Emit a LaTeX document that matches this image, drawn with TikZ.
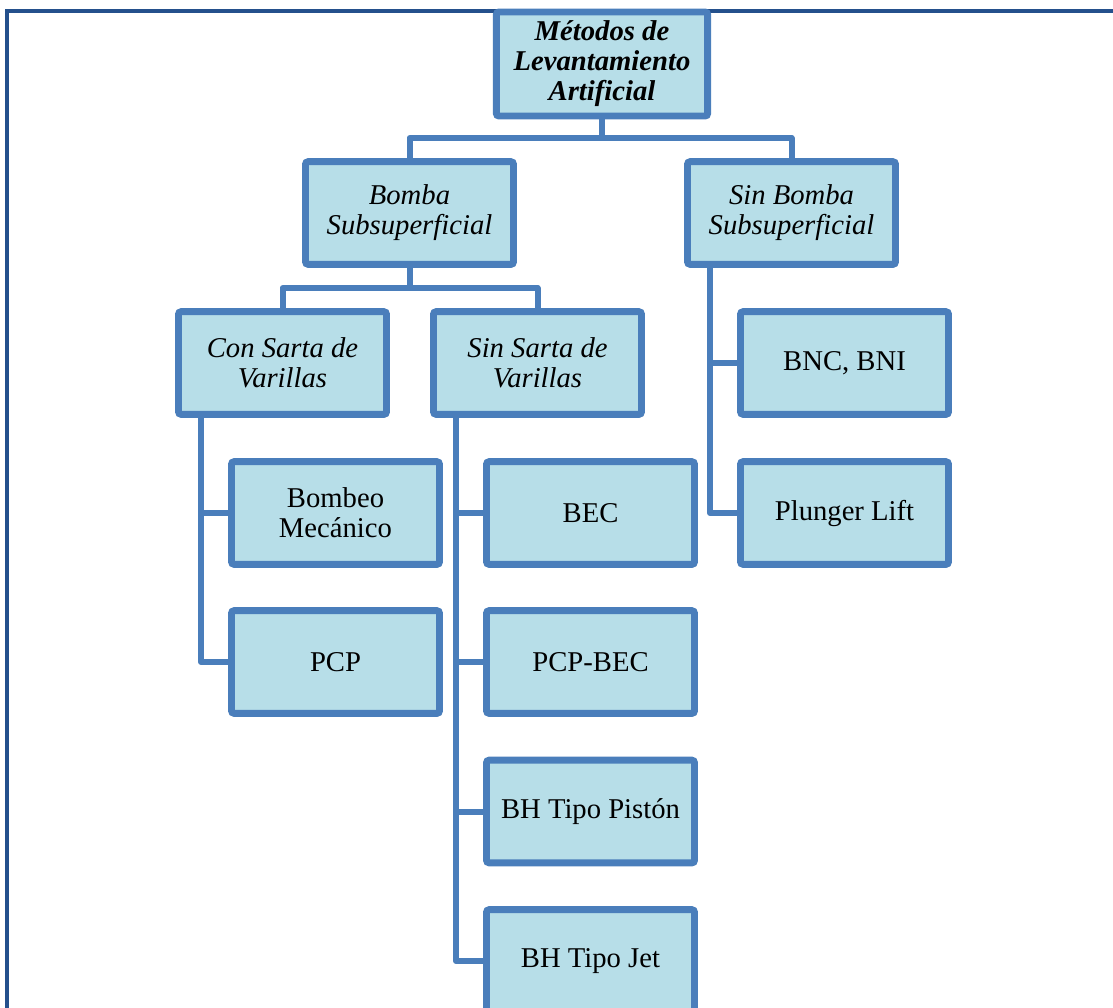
\documentclass[tikz,border=0pt]{standalone}
\usepackage{fontspec}
\setmainfont{Liberation Serif}
\usetikzlibrary{positioning, shadows, backgrounds}
\definecolor{boxblue}{HTML}{B7DEE8}
\definecolor{edgeblue}{HTML}{4A7EBB}
\definecolor{frameblue}{HTML}{24508C}
\newcommand{\txtsize}{\fontsize{21.5}{22.5}\selectfont}

\begin{document}
\begin{tikzpicture}[x=0.75pt, y=-0.75pt,
    metodo/.style={draw=edgeblue, line width=5.2pt, fill=boxblue, rounded corners=2pt,
      minimum width=156pt, minimum height=77pt, align=center, inner sep=2pt,
      font=\txtsize, drop shadow={opacity=0.4, shadow xshift=1.5pt, shadow yshift=-2.2pt}},
    grupo/.style={metodo, font=\txtsize\itshape},
    raiz/.style={metodo, font=\txtsize\bfseries\itshape, minimum height=78pt, minimum width=158.5pt},
    rama/.style={edgeblue, line width=4.5pt, line join=round}]
  \useasboundingbox (0,0) rectangle (1113,1007);
  % outer frame
  \draw[frameblue, line width=2.6pt] (1113,11) -| (7,1010);

  \node[raiz] (top) at (602,64) {Métodos de\\Levantamiento\\Artificial};
  \node[grupo] (bomba) at (409.5,213) {Bomba\\Subsuperficial};
  \node[grupo] (sinbomba) at (791.5,213) {Sin Bomba\\Subsuperficial};
  \node[grupo] (consarta) at (282.5,363) {Con Sarta de\\Varillas};
  \node[grupo] (sinsarta) at (537.5,363) {Sin Sarta de\\Varillas};
  \node[metodo] (bombeo) at (335.5,513) {Bombeo\\Mecánico};
  \node[metodo] (pcp) at (335.5,662) {PCP};
  \node[metodo] (bec) at (590.5,513) {BEC};
  \node[metodo] (pcpbec) at (590.5,662) {PCP-BEC};
  \node[metodo] (piston) at (590.5,811.5) {BH Tipo Pistón};
  \node[metodo] (jet) at (590.5,961) {BH Tipo Jet};
  \node[metodo] (bnc) at (844.5,363) {BNC, BNI};
  \node[metodo] (plunger) at (844.5,513) {Plunger Lift};

  \coordinate (j0) at (602,138);
  \coordinate (j1) at (409.5,288);
  \coordinate (c1) at (201,410);
  \coordinate (c2) at (456,410);
  \coordinate (c3) at (710,260);

  \begin{scope}[on background layer]
    \draw[rama] (top.south) -- (j0);
    \draw[rama] (bomba.north) |- (j0) -| (sinbomba.north);
    \draw[rama] (bomba.south) -- (j1);
    \draw[rama] (consarta.north) |- (j1) -| (sinsarta.north);
    % left branch
    \draw[rama] (c1) |- (pcp.west);
    \draw[rama] (c1 |- bombeo.west) -- (bombeo.west);
    % middle branch
    \draw[rama] (c2) |- (jet.west);
    \draw[rama] (c2 |- bec.west) -- (bec.west);
    \draw[rama] (c2 |- pcpbec.west) -- (pcpbec.west);
    \draw[rama] (c2 |- piston.west) -- (piston.west);
    % right branch
    \draw[rama] (c3) |- (plunger.west);
    \draw[rama] (c3 |- bnc.west) -- (bnc.west);
  \end{scope}
\end{tikzpicture}
\end{document}
